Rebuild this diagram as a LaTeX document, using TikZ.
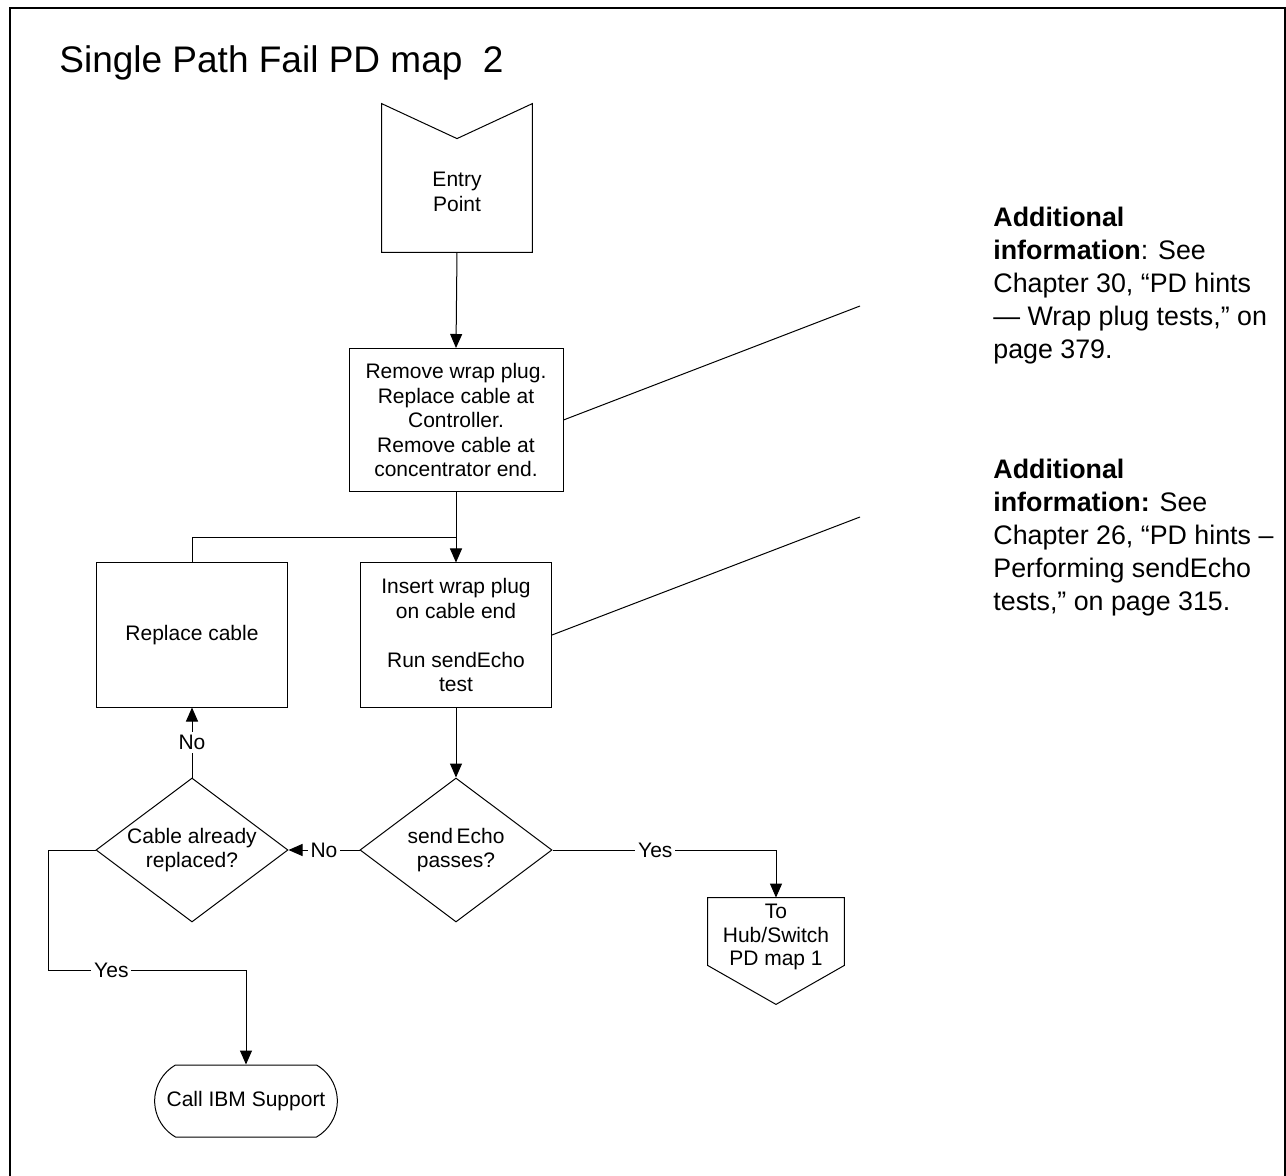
\documentclass[tikz,border=0pt]{standalone}
\usepackage{fontspec}
\setmainfont{Liberation Sans}
\usetikzlibrary{positioning,arrows.meta,calc,shapes.geometric,shapes.misc}
\newcommand{\boxfont}{\fontsize{10.5}{12.25}\selectfont}
\newcommand{\hintfont}{\fontsize{13.4}{16.5}\selectfont}
\tikzset{
  flowarrow/.style={-{Triangle[length=7pt,width=6pt]}, line width=0.5pt},
  flowline/.style={line width=0.5pt},
  procbox/.style={draw, line width=0.5pt, minimum width=95.5pt, minimum height=72pt, inner sep=0pt, align=center},
  decision/.style={draw, diamond, line width=0.5pt, aspect=1.33, minimum width=96pt, minimum height=72pt, inner sep=0pt, align=center},
  terminal/.style={draw, rounded rectangle, rounded rectangle arc length=120, line width=0.5pt, minimum width=98pt, minimum height=36pt, align=center},
  shapebox/.style={inner sep=0pt, align=center},
  relabel/.style={fill=white, inner sep=1.5pt},
  hint/.style={align=left, inner sep=0pt, anchor=north west, font=\hintfont}
}

\begin{document}
\begin{tikzpicture}[x=0.5pt, y=-0.5pt, every node/.style={font=\boxfont}]
  \useasboundingbox (0,0) rectangle (1286,1176);
  % page frame, open at the bottom
  \draw[line width=0.8pt] (10,1176) -- (10,8) -- (1285,8) -- (1285,1176);
  \node[anchor=base west, inner sep=0pt, font=\fontsize{18.5}{22}\selectfont] (title) at (59,73) {Single Path Fail PD map~ 2};

  % entry point with notch
  \node[shapebox, minimum width=75pt, minimum height=74pt] (entry) at (457,178) {};
  \node[shapebox] (entrytxt) at (457,192) {Entry\\Point};
  \draw[flowline] (entry.north west) -- (entry.south west) -- (entry.south east) -- (entry.north east) -- ($(entry.north)+(0,35)$) -- cycle;

  \node[procbox, minimum width=107pt, minimum height=71.5pt] (remove) at (456,420) {Remove wrap plug.\\Replace cable at\\Controller.\\Remove cable at\\concentrator end.};
  \node[procbox] (insert) at (456,635) {Insert wrap plug\\on cable end\\[12.25pt]Run sendEcho\\test};
  \node[procbox] (replace) at (192,635) {Replace cable};
  \node[decision] (send) at (456,850) {send\,Echo\\passes?};
  \node[decision] (cable) at (192,850) {Cable already\\replaced?};
  \node[terminal] (support) at (246,1101) {Call IBM Support};

  % off-page connector
  \node[shapebox, minimum width=68pt, minimum height=33.5pt] (hub) at (776,931.5) {};
  \node[shapebox, font=\fontsize{10.5}{11.8}\selectfont] (hubtxt) at (776,937) {To\\Hub/Switch\\PD map 1};
  \draw[flowline] (hub.north west) -- (hub.south west) -- ($(hub.south)+(0,39)$) -- (hub.south east) -- (hub.north east) -- cycle;

  \coordinate (merge) at (456,538);
  \coordinate (yesturn) at (48,970);
  \coordinate (hint1end) at (860,306);
  \coordinate (hint2end) at (860,517);

  \draw[flowarrow] (entry.south) -- (remove.north);
  \draw[flowarrow] (remove.south) -- (insert.north);
  \draw[flowline] (replace.north) |- (merge);
  \draw[flowarrow] (insert.south) -- (send.north);
  \draw[flowarrow] (send.west) -- node[relabel] {No} (cable.east);
  \draw[flowarrow] (cable.north) -- node[relabel] {No} (replace.south);
  \draw[flowarrow] (send.east) -| node[relabel, pos=0.23] {Yes} (hub.north);
  \draw[flowarrow] (cable.west) -| (yesturn) -| node[relabel, pos=0.16] {Yes} (support.north);

  % hints on the right
  \draw[flowline] (remove.east) -- (hint1end);
  \draw[flowline] (insert.east) -- (hint2end);
  \node[hint] (hint1) at (993,207) {\textbf{Additional}\\\textbf{information}: See\\Chapter 30, “PD hints\\— Wrap plug tests,” on\\page 379.};
  \node[hint] (hint2) at (993,459) {\textbf{Additional}\\\textbf{information:} See\\Chapter 26, “PD hints –\\Performing sendEcho\\tests,” on page 315.};
\end{tikzpicture}
\end{document}
